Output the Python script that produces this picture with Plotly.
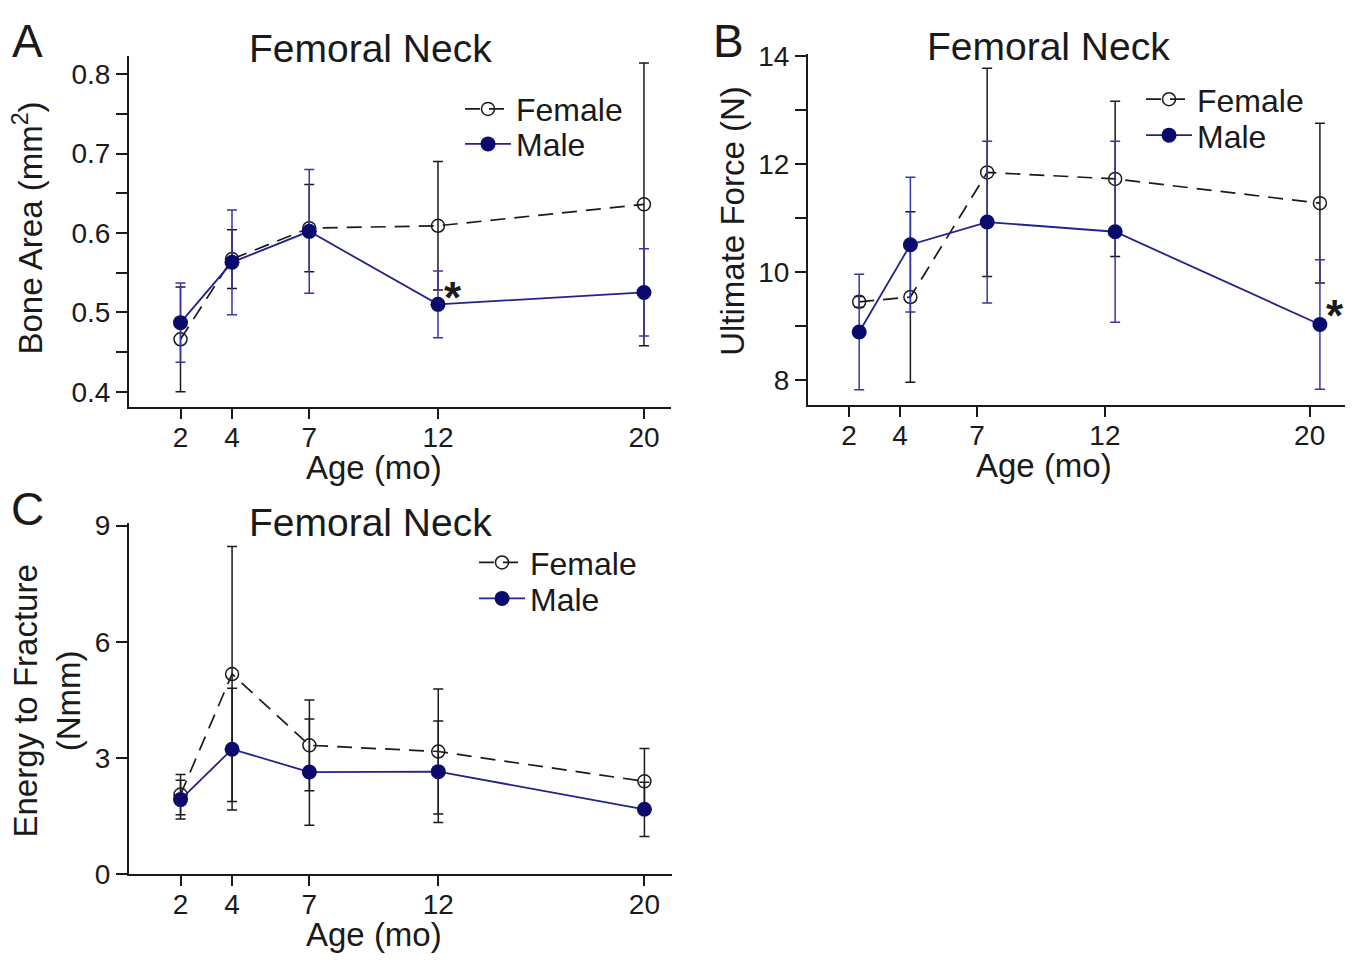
import plotly.graph_objects as go

W, H = 1358, 971

# ---------------- data ----------------
ages = [2, 4, 7, 12, 20]
ages_b = [2.4, 4.4, 7.4, 12.4, 20.4]
age_ticks = [2, 4, 7, 12, 20]

area_f = [0.466, 0.567, 0.606, 0.609, 0.636]
area_f_sd = [0.066, 0.037, 0.055, 0.081, 0.178]
area_m = [0.487, 0.563, 0.602, 0.510, 0.525]
area_m_sd = [0.050, 0.066, 0.078, 0.042, 0.055]

force_f = [9.45, 9.54, 11.85, 11.73, 11.28]
force_f_sd = [0.10, 1.58, 1.93, 1.44, 1.48]
force_m = [8.89, 10.51, 10.93, 10.75, 9.03]
force_m_sd = [1.07, 1.25, 1.50, 1.68, 1.20]

energy_f = [2.06, 5.17, 3.33, 3.17, 2.40]
energy_f_sd = [0.52, 3.29, 1.17, 1.61, 0.85]
energy_m = [1.93, 3.23, 2.64, 2.65, 1.68]
energy_m_sd = [0.50, 1.57, 1.37, 1.31, 0.70]

FONT = "Liberation Sans, Arial, sans-serif"
BLACK = "#1a1a1a"
NAVY = "#0b0b6e"
NAVY_LINE = "#23238c"
NAVY_ERR = "#3636a6"


def px(x):
    return x / W


def py(y):
    return 1 - y / H


fig = go.Figure()


def add_pair(xs, f, fsd, m, msd, xa, ya, leg_f, leg_m, merr_color):
    fig.add_trace(go.Scatter(
        x=xs, y=f, mode="lines+markers", name="Female",
        xaxis=xa, yaxis=ya, legend=leg_f,
        line=dict(color=BLACK, width=1.7, dash="15px,9px"),
        marker=dict(symbol="circle-open", size=13, color=BLACK, line=dict(width=1.5, color=BLACK)),
        error_y=dict(type="data", array=fsd, visible=True, color=BLACK, thickness=1.5, width=5),
    ))
    fig.add_trace(go.Scatter(
        x=xs, y=m, mode="lines+markers", name="Male",
        xaxis=xa, yaxis=ya, legend=leg_m,
        line=dict(color=NAVY_LINE, width=1.8),
        marker=dict(symbol="circle", size=15, color=NAVY),
        error_y=dict(type="data", array=msd, visible=True, color=merr_color, thickness=1.5, width=5),
    ))


add_pair(ages, area_f, area_f_sd, area_m, area_m_sd, "x", "y", "legend", "legend2", NAVY_ERR)
add_pair(ages_b, force_f, force_f_sd, force_m, force_m_sd, "x2", "y2", "legend3", "legend4", NAVY_ERR)
add_pair(ages, energy_f, energy_f_sd, energy_m, energy_m_sd, "x3", "y3", "legend5", "legend6", BLACK)

tickfont = dict(family=FONT, size=28, color=BLACK)


def xaxis(dom, rng, anchor):
    return dict(domain=dom, range=rng, anchor=anchor, tickvals=age_ticks,
                ticktext=[str(a) for a in age_ticks],
                showline=True, linecolor=BLACK, linewidth=2, ticks="outside",
                ticklen=10, tickwidth=1.5, tickcolor=BLACK, showgrid=False,
                zeroline=False, tickfont=tickfont, fixedrange=True,
                ticklabelstandoff=-6)


def yaxis(dom, rng, anchor, tickvals, ticktext, minor_dtick=None, minor_start=None):
    d = dict(domain=dom, range=rng, anchor=anchor, tickvals=tickvals, ticktext=ticktext,
             showline=True, linecolor=BLACK, linewidth=2, ticks="outside",
             ticklen=11, tickwidth=1.5, tickcolor=BLACK, showgrid=False,
             zeroline=False, tickfont=tickfont, fixedrange=True)
    if minor_dtick:
        d["minor"] = dict(ticks="outside", ticklen=11, tickwidth=1.5, tickcolor=BLACK,
                          dtick=minor_dtick, tick0=minor_start, showgrid=False)
    return d


a_ticks = [0.4, 0.5, 0.6, 0.7, 0.8]
b_ticks = [8, 10, 12, 14]
c_ticks = [0, 3, 6, 9]

layout = dict(
    width=W, height=H, margin=dict(l=0, r=0, t=0, b=0),
    paper_bgcolor="white", plot_bgcolor="white",
    font=dict(family=FONT, color=BLACK),
    xaxis=xaxis([px(129), px(671)], [0, 21.05], "y"),
    yaxis=yaxis([py(407), py(45)], [0.3804, 0.8232], "x", a_ticks,
                [f"{v:.1f}" for v in a_ticks], 0.1, 0.45),
    xaxis2=xaxis([px(808), px(1345)], [0.4, 21.38], "y2"),
    yaxis2=yaxis([py(405), py(43)], [7.532, 14.05], "x2", b_ticks,
                 [str(v) for v in b_ticks], 2, 9),
    xaxis3=xaxis([px(129), px(672)], [0, 21.07], "y3"),
    yaxis3=yaxis([py(888), py(526)], [0, 9.07], "x3", c_ticks,
                 [str(v) for v in c_ticks]),
    showlegend=True,
)

legfont = dict(family=FONT, size=32, color=BLACK)
leg_pos = {
    "legend": (460, 100), "legend2": (460, 136),
    "legend3": (1141, 90), "legend4": (1141, 127),
    "legend5": (474, 567), "legend6": (474, 604),
}
for key, (lx, ly) in leg_pos.items():
    layout[key] = dict(x=px(lx), y=py(ly), xanchor="left", yanchor="middle",
                       font=legfont, bgcolor="rgba(0,0,0,0)", tracegroupgap=0,
                       itemwidth=46)

fig.update_layout(**layout)

ann = []


def text(x, y, s, size, angle=0, **kw):
    ann.append(dict(x=px(x), y=py(y), xref="paper", yref="paper", text=s,
                    showarrow=False, textangle=angle,
                    font=dict(family=FONT, size=size, color=BLACK),
                    xanchor="center", yanchor="middle", **kw))


for (lx, ly, letter) in [(27, 30, "A"), (728, 30, "B"), (27, 512, "C")]:
    text(lx, ly, letter, 46)
for (tx, ty) in [(371, 38), (1048, 36), (371, 526)]:
    text(tx, ty, "Femoral Neck", 39)
for (tx, ty) in [(374, 469), (1044, 467), (374, 950)]:
    text(tx, ty, "Age (mo)", 33)
text(28, 223, "Bone Area (mm<sup>2</sup>)", 33, -90)
text(733, 215, "Ultimate Force (N)", 33, -90)
text(47, 710, "Energy to Fracture<br>(Nmm)", 33, -90)

# significance markers
ann.append(dict(x=12.58, y=0.527, xref="x", yref="y", text="<b>*</b>", showarrow=False,
                font=dict(family=FONT, size=44, color=BLACK), xanchor="center", yanchor="middle",
                yshift=-7))
ann.append(dict(x=21.0, y=9.33, xref="x2", yref="y2", text="<b>*</b>", showarrow=False,
                font=dict(family=FONT, size=44, color=BLACK), xanchor="center", yanchor="middle",
                yshift=-7))

fig.update_layout(annotations=ann)
fig.write_html("out.html", config={"displayModeBar": False},
               post_script="document.body.style.margin='0';document.body.style.overflow='hidden';")
